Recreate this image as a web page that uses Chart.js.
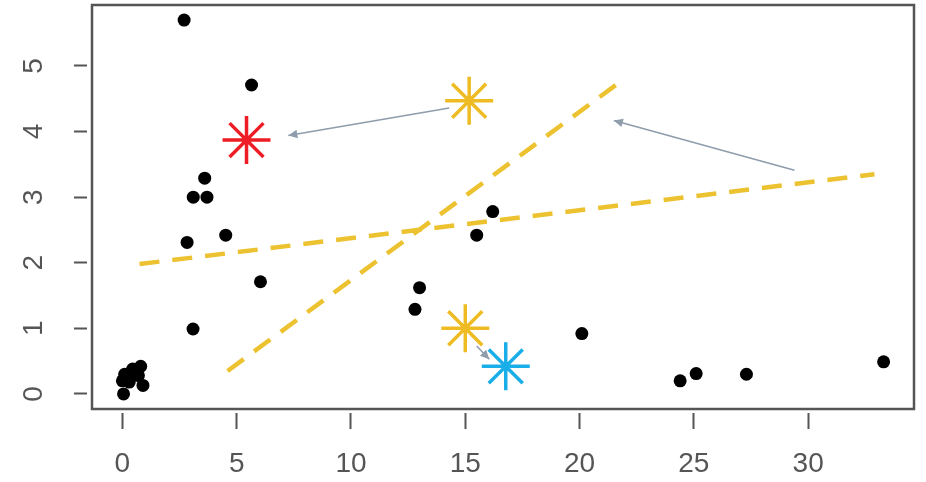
<!DOCTYPE html>
<html>
<head>
<meta charset="utf-8">
<script src="https://cdn.jsdelivr.net/npm/chart.js@4"></script>
<style>
html, body { margin: 0; padding: 0; background: #fff; }
#wrap { position: relative; width: 926px; height: 482px; }
</style>
</head>
<body>
<div id="wrap"><canvas id="myScatter"></canvas></div>
<script>
// black points
var dotX = [0.05, 0.0, 0.1, 0.3, 0.45, 0.7, 0.8, 0.9, 0.2, 2.7, 5.65, 3.6, 3.1, 3.7, 2.83, 4.52, 6.04, 3.09, 16.2, 15.5, 13.0, 12.8, 20.1, 24.4, 25.1, 27.3, 33.3];
var dotY = [0.0, 0.2, 0.3, 0.18, 0.38, 0.28, 0.42, 0.13, 0.25, 5.70, 4.71, 3.29, 3.0, 3.0, 2.31, 2.42, 1.71, 0.99, 2.78, 2.42, 1.62, 1.29, 0.92, 0.2, 0.31, 0.3, 0.49];

// asterisks
var redStar = [5.43, 3.87];
var yellowStars = [[15.17, 4.47], [15.0, 1.0]];
var blueStar = [16.77, 0.42];

// dashed lines
var line1X = [0.75, 32.9], line1Y = [1.98, 3.35];
var line2X = [4.6, 21.9], line2Y = [0.35, 4.79];

// arrows: from -> to (head at "to")
var arrowFromX = [14.3, 29.4, 15.5];
var arrowFromY = [4.36, 3.41, 0.73];
var arrowToX = [7.26, 21.5, 16.05];
var arrowToY = [3.94, 4.17, 0.53];

var xTicks = [0, 5, 10, 15, 20, 25, 30];
var yTicks = [0, 1, 2, 3, 4, 5];

var yellow = "#ECC230";
var arrowColor = "#8E9CAB";
var axisColor = "#555555";

function pts(xs, ys) {
  return xs.map(function (x, i) { return {x: x, y: ys[i]}; });
}

function noPad(s) {
  s.paddingTop = 0; s.paddingBottom = 0; s.paddingLeft = 0; s.paddingRight = 0;
}

var arrowSets = arrowFromX.map(function (x, i) {
  return {
    type: "line",
    data: [{x: arrowFromX[i], y: arrowFromY[i]}, {x: arrowToX[i], y: arrowToY[i]}],
    borderColor: arrowColor,
    borderWidth: 1.5,
    pointRadius: 0,
    showLine: true,
    order: 5
  };
});

var rFrame = {
  id: "rFrame",
  afterDatasetsDraw: function (chart) {
    var ctx = chart.ctx, xs = chart.scales.x, ys = chart.scales.y;
    ctx.save();
    ctx.fillStyle = arrowColor;
    for (var i = 0; i < arrowFromX.length; i++) {
      var x0 = xs.getPixelForValue(arrowFromX[i]), y0 = ys.getPixelForValue(arrowFromY[i]);
      var x1 = xs.getPixelForValue(arrowToX[i]), y1 = ys.getPixelForValue(arrowToY[i]);
      var ang = Math.atan2(y1 - y0, x1 - x0), len = 10, spread = Math.PI / 7;
      ctx.beginPath();
      ctx.moveTo(x1, y1);
      ctx.lineTo(x1 - len * Math.cos(ang - spread), y1 - len * Math.sin(ang - spread));
      ctx.lineTo(x1 - len * Math.cos(ang + spread), y1 - len * Math.sin(ang + spread));
      ctx.closePath();
      ctx.fill();
    }
    ctx.restore();
  },
  afterDraw: function (chart) {
    var a = chart.chartArea, ctx = chart.ctx;
    ctx.save();
    ctx.strokeStyle = axisColor;
    ctx.lineWidth = 2.5;
    ctx.strokeRect(a.left, a.top, a.right - a.left, a.bottom - a.top);
    ctx.restore();
  }
};

var myScatter = new Chart(document.getElementById("myScatter"), {
  type: "scatter",
  data: {
    datasets: [
      {
        data: pts(line1X, line1Y),
        showLine: true, borderColor: yellow, borderWidth: 4.5, borderDash: [20, 13],
        pointRadius: 0, order: 6
      },
      {
        data: pts(line2X, line2Y),
        showLine: true, borderColor: yellow, borderWidth: 4.5, borderDash: [20, 13],
        pointRadius: 0, order: 6
      }
    ].concat(arrowSets).concat([
      {
        data: pts(dotX, dotY),
        backgroundColor: "#000", borderColor: "#000", pointRadius: 6.5, borderWidth: 0, order: 3
      },
      {
        data: [{x: redStar[0], y: redStar[1]}],
        pointStyle: "star", pointRadius: 24, borderWidth: 3.5, borderColor: "#EE1C24", order: 2
      },
      {
        data: yellowStars.map(function (p) { return {x: p[0], y: p[1]}; }),
        pointStyle: "star", pointRadius: 24, borderWidth: 3.5, borderColor: "#EFBB22", order: 2
      },
      {
        data: [{x: blueStar[0], y: blueStar[1]}],
        pointStyle: "star", pointRadius: 24, borderWidth: 3.5, borderColor: "#1AAEE8", order: 2
      }
    ])
  },
  options: {
    responsive: true,
    maintainAspectRatio: false,
    animation: false,
    events: [],
    layout: { autoPadding: false, padding: { left: 0, top: 5, right: 12, bottom: 0 } },
    plugins: { legend: { display: false }, tooltip: { enabled: false } },
    scales: {
      x: {
        type: "linear", min: -1.33, max: 34.63,
        afterBuildTicks: function (s) { s.ticks = xTicks.map(function (v) { return {value: v}; }); },
        afterFit: function (s) { s.height = 73; noPad(s); },
        border: { display: false },
        grid: {
          drawOnChartArea: false, drawTicks: true, tickLength: 24,
          tickColor: axisColor, tickWidth: 2, tickBorderDash: [0, 4, 16, 100]
        },
        ticks: {
          color: axisColor, padding: 14, maxRotation: 0,
          font: { family: "'Liberation Sans', Arial, sans-serif", size: 28 }
        }
      },
      y: {
        type: "linear", min: -0.23, max: 5.93,
        afterBuildTicks: function (s) { s.ticks = yTicks.map(function (v) { return {value: v}; }); },
        afterFit: function (s) { s.width = 92; noPad(s); },
        border: { display: false },
        grid: {
          drawOnChartArea: false, drawTicks: true, tickLength: 18,
          tickColor: axisColor, tickWidth: 2, tickBorderDash: [13, 100]
        },
        ticks: {
          color: axisColor, padding: 32, minRotation: 90, maxRotation: 90, crossAlign: "center",
          font: { family: "'Liberation Sans', Arial, sans-serif", size: 28 }
        }
      }
    }
  },
  plugins: [rFrame]
});
</script>
</body>
</html>
